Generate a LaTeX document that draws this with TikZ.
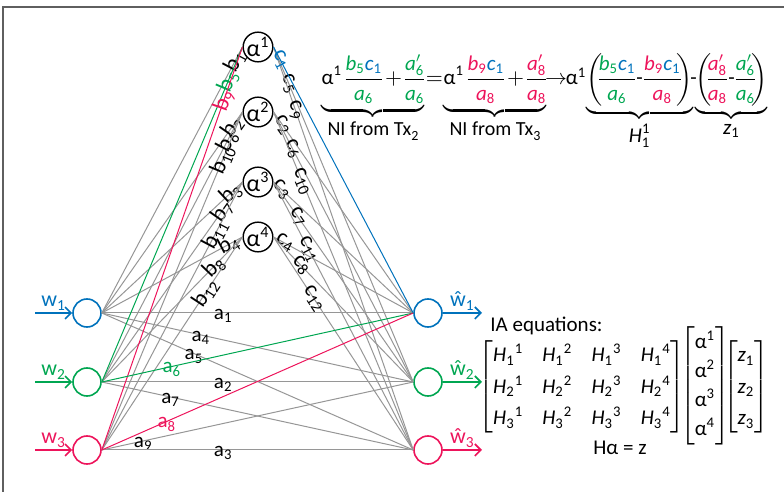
\documentclass[tikz,border=0pt]{standalone}
\usepackage{amsmath}
\usepackage{fontspec}
\setmainfont{Carlito}
\usetikzlibrary{arrows.meta}
\definecolor{cblue}{RGB}{0,114,188}
\definecolor{cgreen}{RGB}{0,166,81}
\definecolor{cred}{RGB}{237,20,91}
\definecolor{lgray}{RGB}{150,150,150}
\definecolor{fgray}{RGB}{95,95,95}
\newcommand\tu[1]{\text{#1}}
\newcommand\tv[1]{\text{\itshape #1}}
\newcommand\Va[2]{\tv{#1}_{\tu{#2}}}
\newcommand\Vp[2]{\tv{#1}'_{\tu{#2}}}
\newcommand\al{\text{α}}
\newcommand\Lb[2]{$\tu{#1}_{\tu{#2}}$}
\newcommand\Hm[2]{\tv{H}_{\tu{#1}}{}^{\tu{#2}}}
\newcommand\G[1]{\textcolor{cgreen}{#1}}
\newcommand\R[1]{\textcolor{cred}{#1}}
\newcommand\B[1]{\textcolor{cblue}{#1}}
\newcommand\eqsetup{\nulldelimiterspace=0pt\medmuskip=2.5mu\thickmuskip=3mu}
\newcommand\mn{\mkern1mu\tu{-}\mkern1mu}
\newcommand\ulab[2]{\text{\fontsize{10}{12}\selectfont #1\raisebox{-0.25em}{\fontsize{7}{8}\selectfont #2}}}
\begin{document}
\begin{tikzpicture}[x=0.5pt,y=-0.5pt, font=\fontsize{10.5}{12.6}\selectfont,
  txr/.style={circle,draw,line width=0.8pt,minimum size=14pt,inner sep=0pt},
  anode/.style={circle,draw=black,line width=0.7pt,minimum size=13.5pt,inner sep=0pt,font=\fontsize{12}{14}\selectfont},
  link/.style={draw=lgray,line width=0.5pt},
  blab/.style={sloped,anchor=center,inner sep=0pt,font=\fontsize{11.5}{13}\selectfont},
  alab/.style={anchor=center,inner sep=0pt,yshift=-1.5pt},
  arr/.style={line width=0.8pt,-{Straight Barb[length=3pt,width=6pt]}},
  eq/.style={anchor=base,inner sep=0pt,font=\fontsize{10.5}{12.6}\selectfont\eqsetup},
  wlab/.style={above=1pt,inner sep=0pt,font=\fontsize{11}{13}\selectfont},
  ia/.style={inner sep=0pt,font=\fontsize{10.5}{12.6}\selectfont}
]
\useasboundingbox (0,0) rectangle (784,492);
\draw[fgray,line width=1pt] (3,492) -- (3,7) -- (784,7);

% nodes
\node[txr,draw=cblue]  (t1) at (87,313) {};
\node[txr,draw=cgreen] (t2) at (87,382) {};
\node[txr,draw=cred]   (t3) at (87,450) {};
\node[txr,draw=cblue]  (r1) at (428,313) {};
\node[txr,draw=cgreen] (r2) at (428,382) {};
\node[txr,draw=cred]   (r3) at (428,450) {};
\node[anode] (al1) at (258,47)  {$\al^{\tu{1}}$};
\node[anode] (al2) at (258,112) {$\al^{\tu{2}}$};
\node[anode] (al3) at (258,182) {$\al^{\tu{3}}$};
\node[anode] (al4) at (258,237) {$\al^{\tu{4}}$};

% Tx -> alpha (gray)
\draw[link] (t1.east) -- node[blab,pos=0.946]{\Lb{b}{1}} (al1.west);
\draw[link] (t1.east) -- node[blab,pos=0.927]{\Lb{b}{2}} (al2.west);
\draw[link] (t1.east) -- node[blab,pos=0.916]{\Lb{b}{3}} (al3.west);
\draw[link] (t1.east) -- node[blab,pos=0.903]{\Lb{b}{4}} (al4.west);
\draw[link] (t2.east) -- node[blab,pos=0.892]{\Lb{b}{6}} (al2.west);
\draw[link] (t2.east) -- node[blab,pos=0.856]{\Lb{b}{7}} (al3.west);
\draw[link] (t2.east) -- node[blab,pos=0.796]{\Lb{b}{8}} (al4.west);
\draw[link] (t3.east) -- node[blab,pos=0.859]{\Lb{b}{10}} (al2.west);
\draw[link] (t3.east) -- node[blab,pos=0.805]{\Lb{b}{11}} (al3.west);
\draw[link] (t3.east) -- node[blab,pos=0.737]{\Lb{b}{12}} (al4.west);

% alpha -> Rx (gray)
\draw[link] (al1.east) -- node[blab,pos=0.111]{\Lb{c}{5}} (r2.west);
\draw[link] (al1.east) -- node[blab,pos=0.158]{\Lb{c}{9}} (r3.west);
\draw[link] (al2.east) -- node[blab,pos=0.066]{\Lb{c}{2}} (r1.west);
\draw[link] (al2.east) -- node[blab,pos=0.137]{\Lb{c}{6}} (r2.west);
\draw[link] (al2.east) -- node[blab,pos=0.206]{\Lb{c}{10}} (r3.west);
\draw[link] (al3.east) -- node[blab,pos=0.058]{\Lb{c}{3}} (r1.west);
\draw[link] (al3.east) -- node[blab,pos=0.176]{\Lb{c}{7}} (r2.west);
\draw[link] (al3.east) -- node[blab,pos=0.251]{\Lb{c}{11}} (r3.west);
\draw[link] (al4.east) -- node[blab,pos=0.081]{\Lb{c}{4}} (r1.west);
\draw[link] (al4.east) -- node[blab,pos=0.198]{\Lb{c}{8}} (r2.west);
\draw[link] (al4.east) -- node[blab,pos=0.289]{\Lb{c}{12}} (r3.west);

% Tx -> Rx (gray)
\draw[link] (t1.east) -- node[alab,pos=0.39]{\Lb{a}{1}} (r1.west);
\draw[link] (t1.east) -- node[alab,pos=0.318]{\Lb{a}{4}} (r2.west);
\draw[link] (t1.east) -- node[alab,pos=0.296]{\Lb{a}{5}} (r3.west);
\draw[link] (t2.east) -- node[alab,pos=0.39]{\Lb{a}{2}} (r2.west);
\draw[link] (t2.east) -- node[alab,pos=0.221]{\Lb{a}{7}} (r3.west);
\draw[link] (t3.east) -- node[alab,pos=0.133]{\Lb{a}{9}} (r2.west);
\draw[link] (t3.east) -- node[alab,pos=0.39]{\Lb{a}{3}} (r3.west);

% coloured links
\draw[link,draw=cgreen] (t2.east) -- node[blab,pos=0.897,text=cgreen]{\Lb{b}{5}} (al1.west);
\draw[link,draw=cred] (t3.east) -- node[blab,pos=0.868,text=cred]{\Lb{b}{9}} (al1.west);
\draw[link,draw=cblue] (al1.east) -- node[blab,pos=0.05,text=cblue]{\Lb{c}{1}} (r1.west);
\draw[link,draw=cgreen] (t2.east) -- node[alab,pos=0.225,text=cgreen]{\Lb{a}{6}} (r1.west);
\draw[link,draw=cred] (t3.east) -- node[alab,pos=0.209,text=cred]{\Lb{a}{8}} (r1.west);

% inputs / outputs
\coordinate (i1) at (35,313); \coordinate (i2) at (35,382); \coordinate (i3) at (35,450);
\coordinate (o1) at (482,313); \coordinate (o2) at (482,382); \coordinate (o3) at (482,450);
\draw[arr,cblue] (i1) -- node[wlab]{\Lb{w}{1}} (t1.west);
\draw[arr,cgreen] (i2) -- node[wlab]{\Lb{w}{2}} (t2.west);
\draw[arr,cred] (i3) -- node[wlab]{\Lb{w}{3}} (t3.west);
\draw[arr,cblue] (r1.east) -- node[wlab]{\Lb{ŵ}{1}} (o1);
\draw[arr,cgreen] (r2.east) -- node[wlab]{\Lb{ŵ}{2}} (o2);
\draw[arr,cred] (r3.east) -- node[wlab]{\Lb{ŵ}{3}} (o3);

% top equation
\node[eq] (g1) at (373,85) {$\underbrace{\al^{\tu{1}}\;\dfrac{\G{\Va{b}{5}}\B{\Va{c}{1}}}{\G{\Va{a}{6}}}+\dfrac{\G{\Vp{a}{6}}}{\G{\Va{a}{6}}}}_{\ulab{NI from Tx}{2}}$};
\node[eq] (g2) at (434.5,85) {$=$};
\node[eq] (g3) at (495,85) {$\underbrace{\al^{\tu{1}}\;\dfrac{\R{\Va{b}{9}}\B{\Va{c}{1}}}{\R{\Va{a}{8}}}+\dfrac{\R{\Vp{a}{8}}}{\R{\Va{a}{8}}}}_{\ulab{NI from Tx}{3}}$};
\node[eq] (g4) at (556,85) {$\rightarrow$};
\node[eq] (g5) at (629.5,85) {$\al^{\tu{1}}\mkern-3mu\underbrace{\left(\mkern-3mu\dfrac{\G{\Va{b}{5}}\B{\Va{c}{1}}}{\G{\Va{a}{6}}}\mn\dfrac{\R{\Va{b}{9}}\B{\Va{c}{1}}}{\R{\Va{a}{8}}}\mkern-3mu\right)}_{\textstyle\tv{H}_{\tu{1}}^{\tu{1}}}$};
\node[eq] (g6) at (693.5,85) {-};
\node[eq] (g7) at (731.5,85) {$\underbrace{\left(\mkern-3mu\dfrac{\R{\Vp{a}{8}}}{\R{\Va{a}{8}}}\mn\dfrac{\G{\Vp{a}{6}}}{\G{\Va{a}{6}}}\mkern-3mu\right)}_{\textstyle\Va{z}{1}}$};

% IA equations
\node[ia,anchor=west] (ia) at (490,326) {IA equations:};
\node[ia] (matH) at (582,387) {\renewcommand\arraystretch{1.25}\setlength\arraycolsep{4.8pt}$\begin{bmatrix}\Hm{1}{1}&\Hm{1}{2}&\Hm{1}{3}&\Hm{1}{4}\\\Hm{2}{1}&\Hm{2}{2}&\Hm{2}{3}&\Hm{2}{4}\\\Hm{3}{1}&\Hm{3}{2}&\Hm{3}{3}&\Hm{3}{4}\end{bmatrix}$};
\node[ia] (matA) at (705,386) {\renewcommand\arraystretch{1.15}$\begin{bmatrix}\al^{\tu{1}}\\\al^{\tu{2}}\\\al^{\tu{3}}\\\al^{\tu{4}}\end{bmatrix}$};
\node[ia] (matZ) at (746,387) {\renewcommand\arraystretch{1.25}$\begin{bmatrix}\Va{z}{1}\\\Va{z}{2}\\\Va{z}{3}\end{bmatrix}$};
\node[ia] (hz) at (620,448) {Hα = z};
\end{tikzpicture}
\end{document}
